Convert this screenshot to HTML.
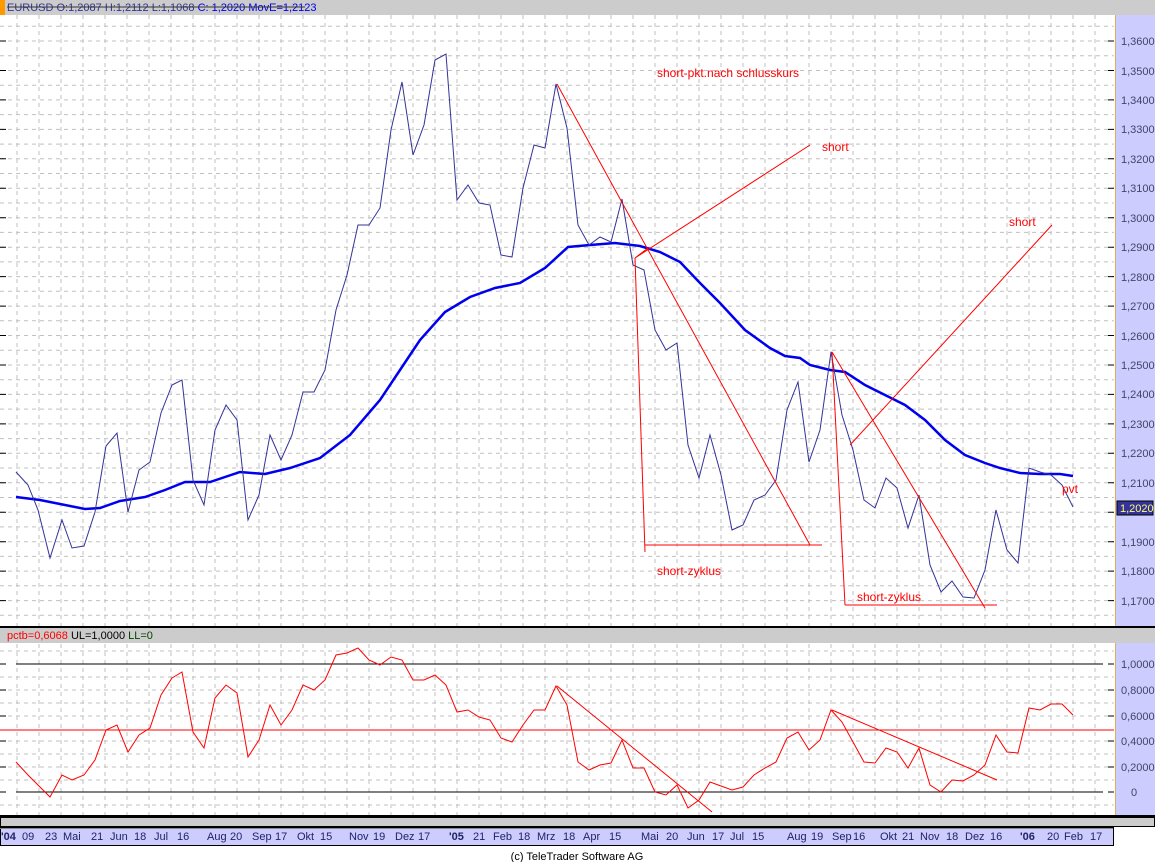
<!DOCTYPE html>
<html><head><meta charset="utf-8"><style>
body{margin:0;background:#fff;width:1155px;height:862px;overflow:hidden;font-family:"Liberation Sans",sans-serif}
svg text{font-family:"Liberation Sans",sans-serif}
</style></head><body>
<svg width="1155" height="862" xmlns="http://www.w3.org/2000/svg">
<rect width="1155" height="862" fill="#fff"/>
<!-- right axis panel -->
<rect x="1115" y="14" width="40" height="802" fill="#ccccff"/>
<line x1="1115.5" y1="14" x2="1115.5" y2="816" stroke="#d8b060" stroke-width="1"/>
<!-- header top -->
<rect x="0" y="0" width="1155" height="15" fill="#cccccc"/>
<rect x="0" y="0" width="5" height="15" fill="#ff9900"/>
<text x="7" y="11" font-size="11" fill="#333399">EURUSD O:1,2087 H:1,2112 L:1,1068 <tspan fill="#0000ee">C: 1,2020 MovE=1,2123</tspan></text>
<line x1="7" y1="7" x2="305" y2="7" stroke="#333" stroke-width="1"/>
<!-- grids -->
<g stroke="#c0c0c0" stroke-dasharray="4,4" stroke-width="1">
<path id="vg" d="M17 15V626M39 15V626M61 15V626M83 15V626M105 15V626M127 15V626M149 15V626M171 15V626M193 15V626M215 15V626M237 15V626M259 15V626M281 15V626M303 15V626M325 15V626M347 15V626M369 15V626M391 15V626M413 15V626M435 15V626M457 15V626M479 15V626M501 15V626M523 15V626M545 15V626M567 15V626M589 15V626M611 15V626M633 15V626M655 15V626M677 15V626M699 15V626M721 15V626M743 15V626M765 15V626M787 15V626M809 15V626M831 15V626M853 15V626M875 15V626M897 15V626M919 15V626M941 15V626M963 15V626M985 15V626M1007 15V626M1029 15V626M1051 15V626M1073 15V626M1095 15V626"/>
<path d="M17 644V815M39 644V815M61 644V815M83 644V815M105 644V815M127 644V815M149 644V815M171 644V815M193 644V815M215 644V815M237 644V815M259 644V815M281 644V815M303 644V815M325 644V815M347 644V815M369 644V815M391 644V815M413 644V815M435 644V815M457 644V815M479 644V815M501 644V815M523 644V815M545 644V815M567 644V815M589 644V815M611 644V815M633 644V815M655 644V815M677 644V815M699 644V815M721 644V815M743 644V815M765 644V815M787 644V815M809 644V815M831 644V815M853 644V815M875 644V815M897 644V815M919 644V815M941 644V815M963 644V815M985 644V815M1007 644V815M1029 644V815M1051 644V815M1073 644V815M1095 644V815"/>
<path d="M0 26.3H1114M0 41H1114M0 55.7H1114M0 70.5H1114M0 85.2H1114M0 99.9H1114M0 114.6H1114M0 129.4H1114M0 144.1H1114M0 158.8H1114M0 173.5H1114M0 188.3H1114M0 203H1114M0 217.7H1114M0 232.4H1114M0 247.2H1114M0 261.9H1114M0 276.6H1114M0 291.3H1114M0 306.1H1114M0 320.8H1114M0 335.5H1114M0 350.2H1114M0 365H1114M0 379.7H1114M0 394.4H1114M0 409.1H1114M0 423.9H1114M0 438.6H1114M0 453.3H1114M0 468H1114M0 482.8H1114M0 497.5H1114M0 512.2H1114M0 526.9H1114M0 541.7H1114M0 556.4H1114M0 571.1H1114M0 585.8H1114M0 600.6H1114M0 615.3H1114"/>
<path d="M0 651H1114M0 677H1114M0 690H1114M0 703H1114M0 716H1114M0 741H1114M0 754H1114M0 767H1114M0 780H1114M0 805H1114"/>
</g>
<!-- right tick marks -->
<g stroke="#000" stroke-width="1">
<path d="M1108 41H1114M1108 70.5H1114M1108 99.9H1114M1108 129.4H1114M1108 158.8H1114M1108 188.3H1114M1108 217.7H1114M1108 247.2H1114M1108 276.6H1114M1108 306.1H1114M1108 335.5H1114M1108 365H1114M1108 394.4H1114M1108 423.9H1114M1108 453.3H1114M1108 482.8H1114M1108 512.2H1114M1108 541.7H1114M1108 571.1H1114M1108 600.6H1114"/>
<path d="M0 41H6M0 70.5H6M0 99.9H6M0 129.4H6M0 158.8H6M0 188.3H6M0 217.7H6M0 247.2H6M0 276.6H6M0 306.1H6M0 335.5H6M0 365H6M0 394.4H6M0 423.9H6M0 453.3H6M0 482.8H6M0 512.2H6M0 541.7H6M0 571.1H6M0 600.6H6"/>
</g>
<g font-size="11" fill="#444466">
<text x="1121" y="45">1,3600</text><text x="1121" y="75">1,3500</text><text x="1121" y="104">1,3400</text><text x="1121" y="133">1,3300</text><text x="1121" y="163">1,3200</text><text x="1121" y="192">1,3100</text><text x="1121" y="222">1,3000</text><text x="1121" y="251">1,2900</text><text x="1121" y="281">1,2800</text><text x="1121" y="310">1,2700</text><text x="1121" y="340">1,2600</text><text x="1121" y="369">1,2500</text><text x="1121" y="398">1,2400</text><text x="1121" y="428">1,2300</text><text x="1121" y="457">1,2200</text><text x="1121" y="487">1,2100</text><text x="1121" y="546">1,1900</text><text x="1121" y="575">1,1800</text><text x="1121" y="605">1,1700</text>
</g>
<rect x="1117" y="501" width="36" height="14" fill="#333399" stroke="#000"/>
<text x="1120" y="512" font-size="11" fill="#ffff66">1,2020</text>
<!-- MA -->
<polyline fill="none" stroke="#0000ee" stroke-width="2.5" points="16,497 40,500 60,504 85,509 100,508 120,501 145,497 165,490 185,482 210,482 240,472 265,474 290,468 320,458 350,435 380,400 400,370 420,340 445,312 470,297 495,288 520,283 545,268 568,247 590,245 615,243 640,246 660,252 680,262 700,283 720,303 745,330 770,348 785,356 800,358 810,365 830,370 845,372 865,385 885,395 905,405 925,420 945,440 965,455 985,463 1000,468 1020,473 1040,474 1060,474 1073,476"/>
<!-- price -->
<polyline fill="none" stroke="#333399" stroke-width="1" points="16,472 28,485 38,510 50,558 62,520 72,548 84,546 95,512 106,446 117,433 128,512 139,470 150,462 161,413 172,385 182,380 193,480 204,505 215,430 226,405 237,420 248,520 259,495 270,435 281,460 292,435 303,392 314,392 325,370 336,310 347,275 358,225 369,225 380,208 391,130 402,82 413,155 424,125 435,60 446,54 457,200 468,185 479,203 490,205 501,255 512,257 523,188 534,145 545,148 556,84 567,128 578,225 589,245 600,237 611,242 622,199 633,265 644,270 655,330 666,350 677,343 688,445 699,478 710,435 721,475 732,530 743,525 754,500 765,495 776,480 787,410 798,382 809,462 820,430 831,352 842,415 853,450 864,500 875,508 886,478 897,488 908,528 919,495 930,565 941,592 952,581 963,597 974,598 985,570 996,510 1007,550 1018,563 1029,468 1040,472 1051,475 1062,485 1073,507"/>
<!-- red annotations -->
<g stroke="#ff0000" stroke-width="1" fill="none">
<path d="M557 84L810 545M635 258L810 145M635 258L648 248M635 258L645 552M645 545L822 545M832 352L985 608M850 445L1052 225M832 352L845 605M845 605L997 605"/>
</g>
<g font-size="12" fill="#ff0000">
<text x="657" y="77">short-pkt.nach schlusskurs</text>
<text x="822" y="151">short</text>
<text x="1009" y="226">short</text>
<text x="657" y="575">short-zyklus</text>
<text x="857" y="601">short-zyklus</text>
<text x="1062" y="493">pvt</text>
</g>
<!-- separator -->
<rect x="0" y="626" width="1155" height="2" fill="#000"/>
<rect x="0" y="628" width="1155" height="15" fill="#cccccc"/>
<text x="7" y="639" font-size="11"><tspan fill="#ff0000">pctb=0,6068</tspan> <tspan fill="#000">UL=1,0000</tspan> <tspan fill="#004400">LL=0</tspan></text>
<!-- lower -->
<path d="M16 664H1103M16 792H1103" stroke="#000" stroke-width="1"/>
<path d="M0 730H1114" stroke="#ff0000" stroke-width="1"/>
<g font-size="11" fill="#444466">
<text x="1121" y="668">1,0000</text><text x="1121" y="694">0,8000</text><text x="1121" y="720">0,6000</text><text x="1121" y="745">0,4000</text><text x="1121" y="771">0,2000</text><text x="1131" y="796">0</text>
</g>
<g stroke="#000"><path d="M1108 664H1114M1108 690H1114M1108 716H1114M1108 741H1114M1108 767H1114M1108 792H1114M0 664H6M0 690H6M0 716H6M0 741H6M0 767H6M0 792H6"/></g>
<polyline fill="none" stroke="#ff0000" stroke-width="1" points="16,762 28,775 38,785 50,797 62,775 72,780 84,775 95,760 106,730 117,725 128,752 139,735 150,728 161,695 172,678 182,672 193,732 204,748 215,698 226,685 237,693 248,757 259,740 270,705 281,725 292,710 303,685 314,690 325,680 336,655 347,653 358,648 369,660 380,665 391,657 402,660 413,680 424,680 435,675 446,685 457,712 468,710 479,717 490,720 501,738 512,742 523,725 534,710 545,710 556,686 567,705 578,762 589,770 600,765 611,763 622,740 633,768 644,768 655,792 666,795 677,785 688,808 699,800 710,782 721,786 732,790 743,787 754,775 765,768 776,762 787,738 798,732 809,750 820,740 831,710 842,722 853,742 864,762 875,763 886,748 897,752 908,768 919,748 930,785 941,792 952,780 963,781 974,775 985,765 996,735 1007,752 1018,753 1029,708 1040,710 1051,704 1062,704 1073,715"/>
<path d="M557 686L712 812M832 710L997 780" stroke="#ff0000" fill="none"/>
<!-- bottom -->
<rect x="0" y="815" width="1155" height="2" fill="#000"/>
<rect x="0.5" y="817.5" width="1154" height="9" fill="#cccccc" stroke="#000"/>
<rect x="0.5" y="827.5" width="1113" height="18" fill="#ccccff" stroke="#000"/>
<line x1="0" y1="828.5" x2="1113" y2="828.5" stroke="#888"/>
<g font-size="11" fill="#222266">
<text x="1" y="840" font-weight="bold">'04</text><text x="22" y="840">09</text><text x="45" y="840">23</text><text x="63" y="840">Mai</text><text x="91" y="840">21</text><text x="110" y="840">Jun</text><text x="134" y="840">18</text><text x="154" y="840">Jul</text><text x="177" y="840">16</text><text x="207" y="840">Aug</text><text x="230" y="840">20</text><text x="252" y="840">Sep</text><text x="275" y="840">17</text><text x="297" y="840">Okt</text><text x="320" y="840">15</text><text x="349" y="840">Nov</text><text x="373" y="840">19</text><text x="395" y="840">Dez</text><text x="418" y="840">17</text><text x="449" y="840" font-weight="bold">'05</text><text x="473" y="840">21</text><text x="493" y="840">Feb</text><text x="518" y="840">18</text><text x="537" y="840">Mrz</text><text x="563" y="840">18</text><text x="583" y="840">Apr</text><text x="609" y="840">15</text><text x="641" y="840">Mai</text><text x="666" y="840">20</text><text x="687" y="840">Jun</text><text x="712" y="840">17</text><text x="730" y="840">Jul</text><text x="752" y="840">15</text><text x="787" y="840">Aug</text><text x="811" y="840">19</text><text x="832" y="840">Sep</text><text x="853" y="840">16</text><text x="880" y="840">Okt</text><text x="902" y="840">21</text><text x="920" y="840">Nov</text><text x="946" y="840">18</text><text x="965" y="840">Dez</text><text x="990" y="840">16</text><text x="1020" y="840" font-weight="bold">'06</text><text x="1047" y="840">20</text><text x="1064" y="840">Feb</text><text x="1090" y="840">17</text>
</g>
<text x="577" y="860" font-size="11" fill="#000" text-anchor="middle">(c) TeleTrader Software AG</text>
</svg>
</body></html>
